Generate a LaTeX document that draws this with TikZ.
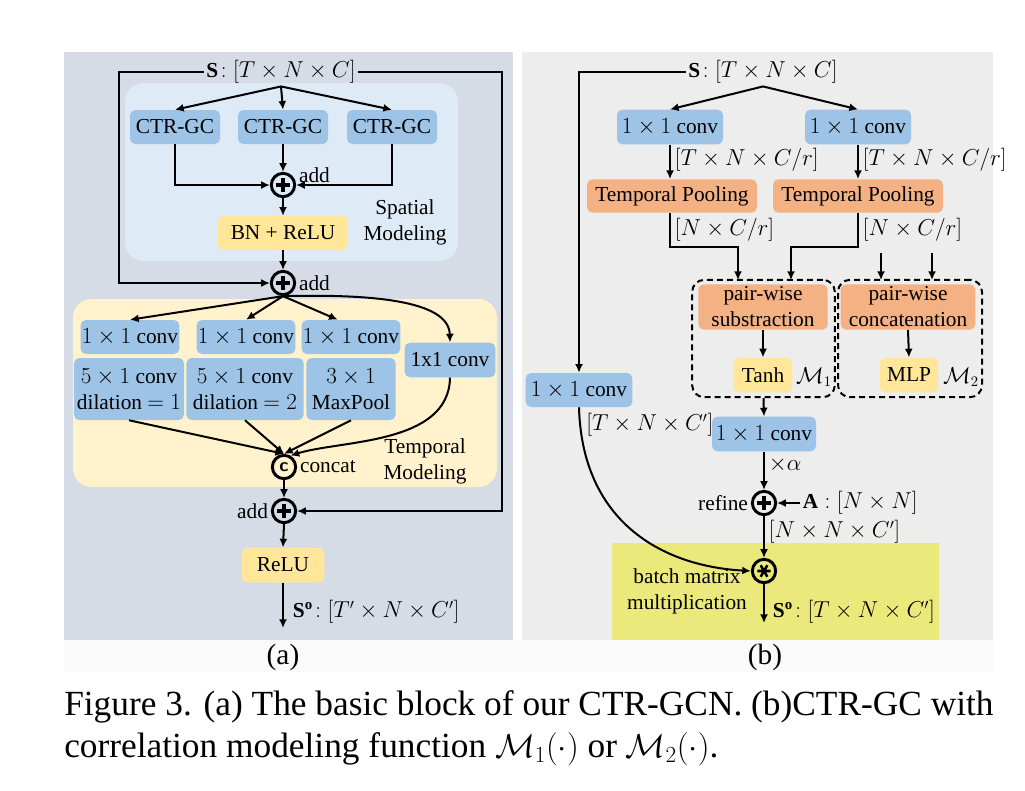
\documentclass[tikz,border=0pt]{standalone}
\usepackage{fontspec}
\setmainfont{Liberation Serif}
\usetikzlibrary{arrows.meta}

\definecolor{panelA}{HTML}{D6DCE5}
\definecolor{panelB}{HTML}{EDEDED}
\definecolor{spatialbg}{HTML}{DEEBF7}
\definecolor{temporalbg}{HTML}{FFF2CC}
\definecolor{convblue}{HTML}{9DC3E6}
\definecolor{actyellow}{HTML}{FFE699}
\definecolor{poolorange}{HTML}{F4B183}
\definecolor{bmmyellow}{HTML}{EBE97B}

\newcommand{\dfont}{\fontsize{16}{19.5}\selectfont}

\tikzset{
  arr/.style={line width=1.5pt, -{Latex[length=6.5pt,width=6pt]}},
  blk/.style={rounded corners=4pt, align=center, inner sep=1pt, font=\dfont},
  convbox/.style={blk, fill=convblue},
  actbox/.style={blk, fill=actyellow},
  poolbox/.style={blk, fill=poolorange},
  lbl/.style={font=\dfont, inner sep=2pt},
  dashbox/.style={draw, line width=1.5pt, dash pattern=on 4.5pt off 3pt, rounded corners=9pt},
  opnode/.style={circle, draw, line width=2.2pt, minimum size=17.5pt, inner sep=0pt},
  addop/.style={opnode, path picture={
      \draw[line width=2.4pt] (path picture bounding box.center) +(-5pt,0) -- +(5pt,0)
        (path picture bounding box.center) +(0,-5pt) -- +(0,5pt);}},
  catop/.style={opnode, font=\sffamily\bfseries\fontsize{14}{14}\selectfont},
  bmmop/.style={opnode, path picture={
      \draw[line width=1.9pt] (path picture bounding box.center) +(-5pt,0) -- +(5pt,0)
        (path picture bounding box.center) +(60:5pt) -- +(240:5pt)
        (path picture bounding box.center) +(120:5pt) -- +(300:5pt);}}
}

\begin{document}
\begin{tikzpicture}[x=0.75pt, y=-0.75pt]
  \useasboundingbox (0,0) rectangle (1025,790);

  % backgrounds
  \fill[panelA] (64,52) rectangle (513,640);
  \fill[panelB] (522,52) rectangle (993,640);
  \fill[black!2] (64,640) rectangle (993,672);
  \fill[spatialbg, rounded corners=14pt] (125,83) rectangle (458,261);
  \fill[temporalbg, rounded corners=14pt] (73,299) rectangle (497,487);
  \fill[bmmyellow] (612,543) rectangle (939,640);

  % ---------------- (a) basic block ----------------
  \node[lbl] (sA) at (281,72) {$\mathbf{S}\!:[T\times N\times C]$};
  \coordinate (skipL) at (119,72);
  \coordinate (skipR) at (502,72);

  % spatial modeling
  \node[convbox, minimum width=67.5pt, minimum height=25.5pt] (ctr1) at (175,127) {CTR-GC};
  \node[convbox, minimum width=67.5pt, minimum height=25.5pt] (ctr2) at (283,127) {CTR-GC};
  \node[convbox, minimum width=67.5pt, minimum height=25.5pt] (ctr3) at (392,127) {CTR-GC};
  \node[addop] (add1) at (283,185) {};
  \node[lbl, anchor=west, yshift=7pt] (add1lbl) at (add1.east) {add};
  \node[actbox, minimum width=97.5pt, minimum height=25.5pt] (bnrelu) at (283,233) {BN + ReLU};
  \node[lbl, align=center] (spatlbl) at (405,222) {Spatial\\Modeling};
  \node[addop] (add2) at (283,283) {};
  \node[lbl, anchor=west] (add2lbl) at (add2.east) {add};

  % temporal modeling
  \node[convbox, minimum width=74pt, minimum height=25.5pt] (pw1) at (130,337) {$1\times 1$ conv};
  \node[convbox, minimum width=73.5pt, minimum height=25.5pt] (pw2) at (246,337) {$1\times 1$ conv};
  \node[convbox, minimum width=74pt, minimum height=25.5pt] (pw3) at (351,337) {$1\times 1$ conv};
  \node[convbox, minimum width=68pt, minimum height=26pt] (pw4) at (450,360) {1x1 conv};
  \node[convbox, minimum width=82.5pt, minimum height=46.5pt] (tc1) at (129,389) {$5\times 1$ conv\\dilation $=1$};
  \node[convbox, minimum width=88pt, minimum height=46.5pt] (tc2) at (245,389) {$5\times 1$ conv\\dilation $=2$};
  \node[convbox, minimum width=67pt, minimum height=46.5pt] (mp) at (351,389) {$3\times 1$\\MaxPool};
  \node[catop] (cat) at (284,467) {c};
  \node[lbl, anchor=west] (catlbl) at (cat.east) {concat};
  \node[lbl, align=center] (templbl) at (425,461) {Temporal\\Modeling};

  \node[addop] (add3) at (284,511) {};
  \node[lbl, anchor=east] (add3lbl) at (add3.west) {add};
  \node[actbox, minimum width=62pt, minimum height=26pt] (relu) at (283,565) {ReLU};
  \coordinate (outA) at (283,628);
  \node[lbl, anchor=west] (outAlbl) at (290,612) {$\mathbf{S}^{\mathbf{o}}\!:[T'\times N\times C']$};

  % connectors (a)
  \draw[arr] (sA.south) -- (ctr1.north);
  \draw[arr] (sA.south) -- (ctr2.north);
  \draw[arr] (sA.south) -- (ctr3.north);
  \draw[arr] (ctr1.south) |- (add1.west);
  \draw[arr] (ctr2.south) -- (add1.north);
  \draw[arr] (ctr3.south) |- (add1.east);
  \draw[arr] (add1.south) -- (bnrelu.north);
  \draw[arr] (bnrelu.south) -- (add2.north);
  \draw[arr] (sA.west) -- (skipL) |- (add2.west);
  \draw[arr] (add2.south) -- (pw1.north);
  \draw[arr] (add2.south) -- (pw2.north);
  \draw[arr] (add2.south) -- ([xshift=-10pt]pw3.north);
  \draw[arr] (add2.south) .. controls (370,294) and (449,300) .. (pw4.north);
  \draw[arr] (tc1.south) -- (cat.north);
  \draw[arr] (tc2.south) -- (cat.north);
  \draw[arr] (mp.south) -- (cat.north);
  \draw[arr] (pw4.south) .. controls (449,445) and (340,440) .. (cat.60);
  \draw[arr] (cat.south) -- (add3.north);
  \draw[arr] (sA.east) -- (skipR) |- (add3.east);
  \draw[arr] (add3.south) -- (relu.north);
  \draw[arr] (relu.south) -- (outA);

  % ---------------- (b) CTR-GC ----------------
  \node[lbl] (sB) at (763,72) {$\mathbf{S}\!:[T\times N\times C]$};
  \coordinate (skipB) at (579,72);
  \node[convbox, minimum width=79.5pt, minimum height=26pt] (convA) at (670,127) {$1\times 1$ conv};
  \node[convbox, minimum width=79.5pt, minimum height=26pt] (convB) at (858,127) {$1\times 1$ conv};
  \node[poolbox, minimum width=127.5pt, minimum height=25pt] (tpA) at (672,196) {Temporal Pooling};
  \node[poolbox, minimum width=127.5pt, minimum height=25pt] (tpB) at (858,196) {Temporal Pooling};
  \node[lbl, anchor=west] (convAlbl) at (672,160) {$[T\times N\times C/r]$};
  \node[lbl, anchor=west] (convBlbl) at (860,160) {$[T\times N\times C/r]$};
  \node[lbl, anchor=west] (tpAlbl) at (672,230) {$[N\times C/r]$};
  \node[lbl, anchor=west] (tpBlbl) at (860,230) {$[N\times C/r]$};

  \node[dashbox, minimum width=107pt, minimum height=88pt] (mOne) at (763.5,338.5) {};
  \node[dashbox, minimum width=108pt, minimum height=88pt] (mTwo) at (910,338.5) {};
  \coordinate (inA) at (738,280);
  \coordinate (inB) at (791,280);
  \coordinate (inC1) at (881,253);
  \coordinate (inC2) at (932,253);
  \node[poolbox, minimum width=97pt, minimum height=34pt, inner sep=0pt] (pws) at (763,307) {pair-wise\\substraction};
  \node[poolbox, minimum width=101pt, minimum height=34pt, inner sep=0pt] (pwc) at (908,307) {pair-wise\\concatenation};
  \node[actbox, minimum width=44pt, minimum height=26pt] (tanh) at (763,375) {Tanh};
  \node[actbox, minimum width=43.5pt, minimum height=26pt] (mlp) at (909,375) {MLP};
  \node[lbl] (mOnelbl) at (814,377) {$\mathcal{M}_1$};
  \node[lbl] (mTwolbl) at (961,377) {$\mathcal{M}_2$};

  \node[convbox, minimum width=80pt, minimum height=25.5pt] (convL) at (579,390) {$1\times 1$ conv};
  \node[lbl, anchor=west, inner sep=0pt] (convLlbl) at (586,425) {$[T\times N\times C']$};
  \node[convbox, minimum width=78pt, minimum height=26pt] (convC) at (764,434) {$1\times 1$ conv};
  \node[lbl, anchor=west] (alphalbl) at (766,465) {$\times\alpha$};
  \node[addop] (refine) at (764,503) {};
  \node[lbl, anchor=east] (refinelbl) at (refine.west) {refine};
  \node[lbl, anchor=west] (Alab) at (800,503) {$\mathbf{A}:[N\times N]$};
  \node[lbl, anchor=west] (nnclbl) at (766,532) {$[N\times N\times C']$};
  \node[bmmop] (bmm) at (764,571) {};
  \node[lbl, align=center] (bmmlbl) at (687,591) {batch matrix\\multiplication};
  \coordinate (outB) at (764,623);
  \node[lbl, anchor=west] (outBlbl) at (770,612) {$\mathbf{S}^{\mathbf{o}}\!:[T\times N\times C']$};

  % connectors (b)
  \draw[arr] (sB.south) -- (convA.north);
  \draw[arr] (sB.south) -- (convB.north);
  \draw[arr] (convA.south) -- (tpA.north -| convA.south);
  \draw[arr] (convB.south) -- (tpB.north -| convB.south);
  \draw[arr] ([xshift=-1.5pt]tpA.south) -- ++(0,34) -| (inA);
  \draw[arr] (tpB.south) -- ++(0,34) -| (inB);
  \draw[arr] (inC1) -- ++(0,27);
  \draw[arr] (inC2) -- ++(0,27);
  \draw[arr] (pws.south) -- (tanh.north);
  \draw[arr] (pwc.south) -- (mlp.north);
  \draw[arr] (mOne.south) -- (convC.north);
  \draw[arr] (convC.south) -- (refine.north);
  \draw[arr] (Alab.west) -- (refine.east);
  \draw[arr] (refine.south) -- (bmm.north);
  \draw[arr] (sB.west) -- (skipB) -- (convL.north);
  \draw[arr] (convL.south) .. controls (582,520) and (660,566) .. (bmm.west);
  \draw[arr] (bmm.south) -- (outB);

  % sub-captions and caption
  \node[font=\fontsize{22}{26}\selectfont] (capa) at (283,657) {(a)};
  \node[font=\fontsize{22}{26}\selectfont] (capb) at (765,657) {(b)};
  \node[anchor=north west, align=left, inner sep=0pt, font=\fontsize{26.5}{31.5}\selectfont] (caption) at (64,690)
    {Figure 3. (a) The basic block of our CTR-GCN. (b)CTR-GC with\\correlation modeling function $\mathcal{M}_1(\cdot)$ or $\mathcal{M}_2(\cdot)$.};
\end{tikzpicture}
\end{document}
